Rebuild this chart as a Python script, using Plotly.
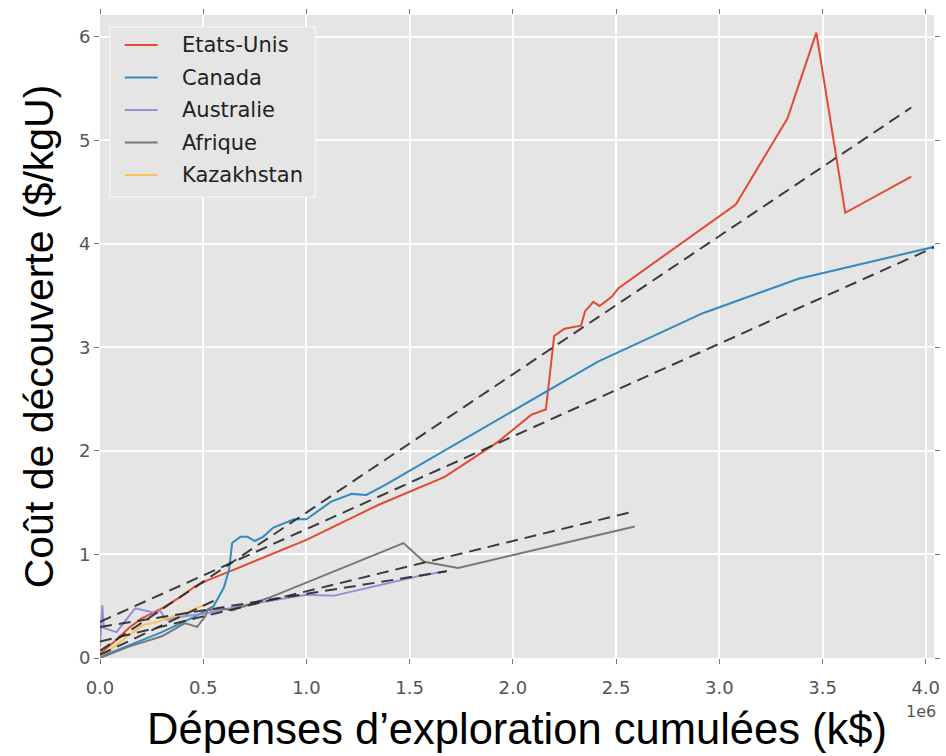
import plotly.graph_objects as go

# ---------------- data (x in k$, y in $/kgU) ----------------
us_x = [0.0, 0.07, 0.14, 0.20, 0.30, 0.39, 0.46, 0.52, 0.62, 1.0, 1.35, 1.54, 1.67, 1.93,
        2.09, 2.16, 2.20, 2.25, 2.33, 2.35, 2.39, 2.42, 2.48, 2.51, 3.08, 3.33, 3.47, 3.61, 3.93]
us_y = [0.04, 0.16, 0.29, 0.38, 0.48, 0.59, 0.69, 0.75, 0.83, 1.14, 1.48, 1.64, 1.75, 2.09,
        2.35, 2.40, 3.11, 3.18, 3.21, 3.35, 3.44, 3.40, 3.49, 3.57, 4.38, 5.21, 6.04, 4.30, 4.65]

ca_x = [0.0, 0.14, 0.30, 0.46, 0.51, 0.55, 0.60, 0.625, 0.64, 0.68, 0.715, 0.75, 0.79, 0.84,
        0.94, 1.0, 1.12, 1.22, 1.29, 1.38, 2.41, 2.92, 3.38, 4.06]
ca_y = [0.01, 0.125, 0.25, 0.40, 0.46, 0.50, 0.68, 0.85, 1.11, 1.17, 1.17, 1.13, 1.17, 1.26,
        1.34, 1.34, 1.51, 1.585, 1.575, 1.67, 2.86, 3.33, 3.66, 3.98]

au_x = [0.0, 0.011, 0.019, 0.08, 0.10, 0.17, 0.24, 0.27, 0.29, 0.32, 0.40, 0.51, 0.70, 1.0,
        1.13, 1.54, 1.68]
au_y = [0.11, 0.51, 0.29, 0.25, 0.30, 0.48, 0.45, 0.43, 0.46, 0.37, 0.40, 0.43, 0.51, 0.61,
        0.60, 0.79, 0.84]

af_x = [0.0, 0.14, 0.30, 0.41, 0.44, 0.47, 0.51, 0.52, 0.59, 0.64, 0.83, 1.47, 1.57, 1.735, 2.59]
af_y = [0.0, 0.11, 0.21, 0.335, 0.32, 0.30, 0.40, 0.46, 0.48, 0.46, 0.59, 1.11, 0.93, 0.87, 1.27]

kz_x = [0.0, 0.07, 0.14, 0.21, 0.25, 0.28, 0.35, 0.41, 0.49, 0.55]
kz_y = [0.02, 0.11, 0.22, 0.32, 0.335, 0.35, 0.40, 0.43, 0.50, 0.545]

# linear fits: (intercept, slope per 1e6 k$)
fit_intercepts = [0.07, 0.35, 0.30, 0.158, 0.03]
fit_slopes = [1.335, 0.895, 0.32, 0.486, 0.95]

names = ["Etats-Unis", "Canada", "Australie", "Afrique", "Kazakhstan"]
colors = ["#E24A33", "#348ABD", "#988ED5", "#777777", "#FBC15E"]

x_tickvals = [0, 0.5e6, 1.0e6, 1.5e6, 2.0e6, 2.5e6, 3.0e6, 3.5e6, 4.0e6]
x_ticktext = ["0.0", "0.5", "1.0", "1.5", "2.0", "2.5", "3.0", "3.5", "4.0"]
y_tickvals = [0, 1, 2, 3, 4, 5, 6]

series = [(us_x, us_y), (ca_x, ca_y), (au_x, au_y), (af_x, af_y), (kz_x, kz_y)]
SCALE = 1e6

fig = go.Figure()
for (xs, ys), name, col in zip(series, names, colors):
    fig.add_trace(go.Scatter(x=[v * SCALE for v in xs], y=ys, mode="lines", name=name,
                             showlegend=False, line=dict(color=col, width=2)))

for (xs, ys), b, m in zip(series, fit_intercepts, fit_slopes):
    x0, x1 = min(xs), max(xs)
    fig.add_trace(go.Scatter(x=[x0 * SCALE, x1 * SCALE], y=[b + m * x0, b + m * x1],
                             mode="lines", showlegend=False, hoverinfo="skip",
                             line=dict(color="rgba(40,40,40,0.9)", width=2, dash="12px,7px")))

# ---- matplotlib-like legend box (drawn in paper coordinates) ----
W_PLOT, H_PLOT, L, B = 840.0, 643.0, 100.0, 658.0
px = lambda v: (v - L) / W_PLOT
py = lambda v: (B - v) / H_PLOT
shapes = [dict(type="rect", xref="paper", yref="paper", layer="above",
               x0=px(110), x1=px(317), y0=py(197), y1=py(27),
               fillcolor="#E5E5E5", line=dict(color="#F2F2F2", width=1.5))]
annotations = []
for i, (name, col) in enumerate(zip(names, colors)):
    yy = py(45 + 32.5 * i)
    shapes.append(dict(type="line", xref="paper", yref="paper", layer="above",
                       x0=px(125), x1=px(158), y0=yy, y1=yy, line=dict(color=col, width=2)))
    annotations.append(dict(text=name, xref="paper", yref="paper", x=px(181), y=yy,
                            xanchor="left", yanchor="middle", showarrow=False,
                            font=dict(family="DejaVu Sans", size=21, color="#222222")))
annotations.append(dict(text="1e6", xref="paper", yref="paper", x=px(944), y=py(711),
                        xanchor="right", yanchor="middle", showarrow=False,
                        font=dict(family="DejaVu Sans", size=16, color="#555555")))

fig.update_layout(
    width=946, height=756,
    margin=dict(l=100, r=6, t=15, b=98),
    paper_bgcolor="white", plot_bgcolor="#E5E5E5",
    font=dict(family="DejaVu Sans", color="#555555"),
    showlegend=False,
    shapes=shapes,
    annotations=annotations,
)
fig.update_xaxes(range=[0, 4.04e6], tickvals=x_tickvals, ticktext=x_ticktext,
                 showgrid=True, gridcolor="white", gridwidth=1.5, zeroline=False,
                 ticks="outside", ticklen=5, tickcolor="#777777", mirror="ticks",
                 ticklabelstandoff=8,
                 tickfont=dict(family="DejaVu Sans", size=18, color="#555555"),
                 title=dict(text="Dépenses d’exploration cumulées (k$)", standoff=16,
                            font=dict(family="Liberation Sans, Arial", size=43.5, color="black")))
fig.update_yaxes(range=[0, 6.21], tickvals=y_tickvals,
                 showgrid=True, gridcolor="white", gridwidth=1.5, zeroline=False,
                 ticks="outside", ticklen=5, tickcolor="#777777", mirror="ticks",
                 tickfont=dict(family="DejaVu Sans", size=18, color="#555555"),
                 title=dict(text="Coût de découverte ($/kgU)", standoff=12,
                            font=dict(family="Liberation Sans, Arial", size=41, color="black")))

fig.write_html("out.html", config={"displayModeBar": False},
               post_script="document.body.style.margin='0';")
